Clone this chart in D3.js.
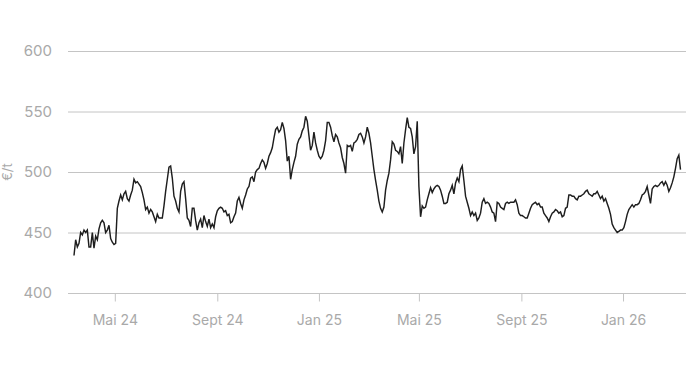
<!DOCTYPE html>
<html>
<head>
<meta charset="utf-8">
<script src="https://cdn.jsdelivr.net/npm/d3@7"></script>
<style>
  html, body { margin: 0; padding: 0; background: #ffffff; }
  svg { display: block; font-family: "Inter", "Open Sans", sans-serif; }
</style>
</head>
<body>
<svg id="chart" width="690" height="383"></svg>
<script>
// ---- data (€/t), sampled every 2 days from the start date ----
const startDate = "2024-03-13";
const stepDays = 2;
const prices = [
  431, 444, 438, 441, 450, 448, 452, 450, 452, 438,
  438, 450, 437, 447, 444, 453, 458, 460, 458, 450,
  452, 456, 445, 442, 440, 441, 470, 476, 481, 477,
  482, 484, 478, 476, 481, 485, 494, 491, 492, 490,
  488, 483, 477, 469, 471, 466, 469, 467, 463, 459,
  465, 462, 462, 462, 472, 484, 494, 504, 505, 495,
  480, 476, 470, 467, 484, 490, 492, 478, 462, 460,
  455, 470, 470, 460, 452, 458, 461, 454, 464, 459,
  455, 461, 454, 457, 454, 463, 468, 470, 471, 470,
  467, 468, 464, 465, 458, 459, 463, 466, 476, 479,
  474, 470, 477, 481, 486, 488, 495, 496, 492, 500,
  502, 503, 507, 510, 508, 503, 507, 513, 516, 520,
  528, 535, 537, 533, 535, 541, 536, 526, 509, 513,
  494, 502, 508, 513, 523, 527, 529, 534, 537, 546,
  542, 530, 518, 522, 533, 524, 518, 513, 511, 513,
  518, 526, 541, 541, 537, 530, 525, 531, 529, 524,
  520, 512, 507, 499, 522, 521, 522, 517, 524, 525,
  527, 531, 532, 529, 524, 529, 537, 532, 524, 513,
  502, 493, 485, 476, 470, 467, 471, 485, 493, 499,
  510, 525, 523, 518, 517, 515, 521, 507, 524, 535,
  545, 537, 536, 529, 515, 521, 542, 488, 463, 472,
  470, 471, 477, 482, 487, 483, 486, 488, 489, 488,
  485, 480, 474, 474, 475, 482, 485, 489, 482, 491,
  495, 492, 502, 505, 493, 480, 475, 470, 464, 467,
  464, 466, 460, 462, 466, 475, 478, 474, 475, 474,
  471, 467, 466, 459, 475, 474, 471, 470, 469, 474,
  475, 474, 475, 475, 475, 477, 473, 466, 464, 464,
  463, 462, 462, 466, 470, 473, 474, 475, 473, 474,
  471, 471, 466, 464, 462, 459, 463, 466, 467, 469,
  468, 466, 467, 463, 464, 470, 471, 481, 481, 480,
  480, 478, 477, 480, 480, 481, 482, 484, 485, 482,
  481, 480, 482, 482, 484, 481, 478, 480, 476, 478,
  474, 470, 465, 457, 454, 452, 450, 451, 452, 452,
  454, 459, 465, 469, 471, 473, 471, 473, 473, 474,
  477, 481, 482, 484, 488, 481, 474, 486, 488, 489,
  488, 489, 491, 492, 489, 492, 489, 484, 487, 491,
  496, 503, 511, 514, 502
];
const yTicks = [400, 450, 500, 550, 600];
const xTickDates = ["2024-05-01", "2024-09-01", "2025-01-01", "2025-05-01", "2025-09-01", "2026-01-01"];
const xTickLabels = ["Mai 24", "Sept 24", "Jan 25", "Mai 25", "Sept 25", "Jan 26"];
const yLabel = "€/t";

// ---- build series ----
const parse = d3.utcParse("%Y-%m-%d");
const t0 = parse(startDate);
const series = prices.map((v, i) => ({ date: d3.utcDay.offset(t0, i * stepDays), value: v }));

const svg = d3.select("#chart");
const gridLeft = 68, gridRight = 686;

const x = d3.scaleUtc()
  .domain([series[0].date, series[series.length - 1].date])
  .range([74, 680.5]);
const y = d3.scaleLinear().domain([400, 600]).range([293, 51]);

// gridlines
svg.append("g")
  .selectAll("line")
  .data(yTicks)
  .join("line")
  .attr("x1", gridLeft).attr("x2", gridRight)
  .attr("y1", d => y(d) + 0.5).attr("y2", d => y(d) + 0.5)
  .attr("stroke", "#c4c4c4").attr("stroke-width", 1);

// y tick labels
svg.append("g")
  .selectAll("text")
  .data(yTicks)
  .join("text")
  .attr("x", 52).attr("y", d => y(d))
  .attr("dy", "0.35em")
  .attr("text-anchor", "end")
  .attr("font-size", 15)
  .attr("fill", "#a9a9a9")
  .text(d => d);

// y axis title
svg.append("text")
  .attr("transform", `translate(12,${y(500)}) rotate(-90)`)
  .attr("text-anchor", "middle")
  .attr("font-size", 13)
  .attr("fill", "#a9a9a9")
  .text(yLabel);

// x axis ticks and labels
const xAxis = d3.axisBottom(x)
  .tickValues(xTickDates.map(parse))
  .tickFormat((d, i) => xTickLabels[i])
  .tickSize(8)
  .tickSizeOuter(0);
const gx = svg.append("g").attr("transform", `translate(0,${y(400) + 0.5})`).call(xAxis);
gx.select(".domain").remove();
gx.selectAll(".tick line").attr("stroke", "#c4c4c4");
gx.selectAll(".tick text")
  .attr("fill", "#a9a9a9")
  .attr("font-size", 14)
  .attr("font-family", "Inter, 'Open Sans', sans-serif")
  .attr("dy", "1.45em");

// line
const line = d3.line().x(d => x(d.date)).y(d => y(d.value));
svg.append("path")
  .datum(series)
  .attr("d", line)
  .attr("fill", "none")
  .attr("stroke", "#1e1e1e")
  .attr("stroke-width", 1.45)
  .attr("stroke-linejoin", "miter")
  .attr("stroke-miterlimit", 4);
</script>
</body>
</html>
